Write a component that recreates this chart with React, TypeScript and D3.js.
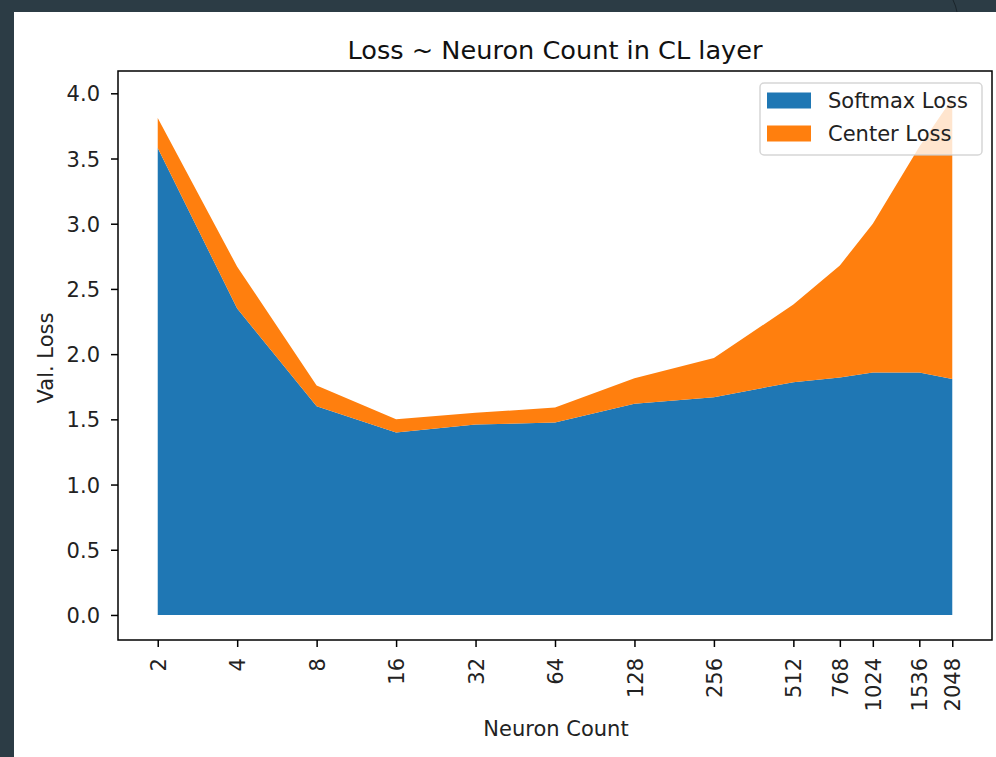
import React, { useRef, useEffect } from "react";
import * as d3 from "d3";

const neurons = [2, 4, 8, 16, 32, 64, 128, 256, 512, 768, 1024, 1536, 2048];
const softmaxLoss = [3.58, 2.35, 1.6, 1.4, 1.46, 1.475, 1.62, 1.67, 1.785, 1.82, 1.86, 1.86, 1.81];
const centerLoss = [0.23, 0.32, 0.16, 0.1, 0.09, 0.115, 0.195, 0.3, 0.595, 0.86, 1.14, 1.73, 2.15];
const yTicks = [0, 0.5, 1, 1.5, 2, 2.5, 3, 3.5, 4];
const seriesNames = ["Softmax Loss", "Center Loss"];
const seriesColors = ["#1f77b4", "#ff7f0e"];

const W = 996;
const H = 757;
const FONT = "DejaVu Sans, sans-serif";
const FS = "21px";

const App = () => {
  const ref = useRef<SVGSVGElement | null>(null);

  useEffect(() => {
    if (!ref.current) return;
    const svg = d3.select(ref.current);
    svg.selectAll("*").remove();

    // screenshot background + white card
    svg.append("rect").attr("width", W).attr("height", H).attr("fill", "#2c3c45");
    svg.append("path")
      .attr("d", "M953,0 Q956,6 957,12")
      .attr("fill", "none")
      .attr("stroke", "#1b252b")
      .attr("stroke-width", 1);
    svg.append("rect").attr("x", 14).attr("y", 12).attr("width", W - 14).attr("height", H - 12).attr("fill", "#fff");

    const left = 118, right = 992, top = 71, bottom = 640;

    const x = d3.scaleLog().base(2).domain([Math.pow(2, 0.5), Math.pow(2, 11.5)]).range([left, right]);
    const y = d3.scaleLinear().domain([-0.192, 4.171]).range([bottom, top]);

    const rows = neurons.map((n, i) => ({ n, softmax: softmaxLoss[i], center: centerLoss[i] }));
    const stack = d3.stack<any>().keys(["softmax", "center"])(rows);

    const area = d3
      .area<any>()
      .x((d) => x(d.data.n))
      .y0((d) => y(d[0]))
      .y1((d) => y(d[1]));

    svg.append("g")
      .selectAll("path")
      .data(stack)
      .enter()
      .append("path")
      .attr("d", (d) => area(d as any))
      .attr("fill", (d, i) => seriesColors[i]);

    // axes
    const xAxis = svg.append("g")
      .attr("transform", `translate(0,${bottom})`)
      .call(
        d3.axisBottom(x)
          .tickValues(neurons)
          .tickFormat((d) => String(d))
          .tickSizeOuter(0)
          .tickSize(7)
      );
    xAxis.select(".domain").remove();
    xAxis.selectAll("line").attr("stroke", "#000").attr("stroke-width", 1.5);
    xAxis.selectAll("text")
      .attr("transform", "rotate(-90)")
      .attr("text-anchor", "end")
      .attr("x", -18)
      .attr("y", 0)
      .attr("dy", "0.36em")
      .attr("fill", "#222")
      .style("font-family", FONT)
      .style("font-size", FS);

    const yAxis = svg.append("g")
      .attr("transform", `translate(${left},0)`)
      .call(d3.axisLeft(y).tickValues(yTicks).tickFormat(d3.format(".1f")).tickSizeOuter(0).tickSize(7).tickPadding(11));
    yAxis.select(".domain").remove();
    yAxis.selectAll("line").attr("stroke", "#000").attr("stroke-width", 1.5);
    yAxis.selectAll("text")
      .attr("fill", "#222")
      .attr("dy", "0.36em")
      .style("font-family", FONT)
      .style("font-size", FS);

    // frame
    svg.append("rect")
      .attr("x", left)
      .attr("y", top)
      .attr("width", right - left)
      .attr("height", bottom - top)
      .attr("fill", "none")
      .attr("stroke", "#000")
      .attr("stroke-width", 1.5);

    // labels
    svg.append("text")
      .attr("x", (left + right) / 2)
      .attr("y", 59)
      .attr("text-anchor", "middle")
      .attr("fill", "#111")
      .style("font-family", FONT)
      .style("font-size", "25.6px")
      .text("Loss ~ Neuron Count in CL layer");

    svg.append("text")
      .attr("x", 556)
      .attr("y", 736)
      .attr("text-anchor", "middle")
      .attr("fill", "#222")
      .style("font-family", FONT)
      .style("font-size", FS)
      .text("Neuron Count");

    svg.append("text")
      .attr("transform", `translate(53,358) rotate(-90)`)
      .attr("text-anchor", "middle")
      .attr("fill", "#222")
      .style("font-family", FONT)
      .style("font-size", FS)
      .text("Val. Loss");

    // legend
    const lg = svg.append("g");
    lg.append("rect")
      .attr("x", 760)
      .attr("y", 83)
      .attr("width", 222)
      .attr("height", 72)
      .attr("rx", 4)
      .attr("fill", "#fff")
      .attr("fill-opacity", 0.8)
      .attr("stroke", "#ccc")
      .attr("stroke-opacity", 0.8)
      .attr("stroke-width", 1.5);
    seriesNames.forEach((name, i) => {
      const yy = 92.5 + i * 33;
      lg.append("rect")
        .attr("x", 767)
        .attr("y", yy)
        .attr("width", 44)
        .attr("height", 16)
        .attr("fill", seriesColors[i]);
      lg.append("text")
        .attr("x", 828)
        .attr("y", yy + 15.5)
        .attr("fill", "#222")
        .style("font-family", FONT)
        .style("font-size", FS)
        .text(name);
    });
  }, []);

  return (
    <svg
      ref={ref}
      width={W}
      height={H}
      style={{ position: "absolute", left: 0, top: 0, display: "block" }}
    />
  );
};

export default App;
